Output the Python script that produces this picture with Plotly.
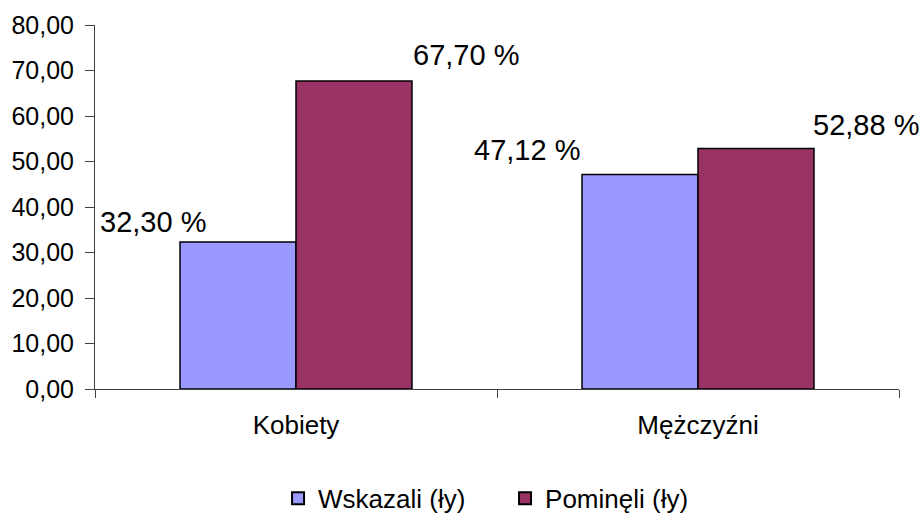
import plotly.graph_objects as go

categories = ["Kobiety", "Mężczyźni"]
series_names = ["Wskazali (ły)", "Pominęli (ły)"]
wskazali = [32.30, 47.12]
pominieli = [67.70, 52.88]
y_ticks = [0, 10, 20, 30, 40, 50, 60, 70, 80]

colors = ["#9999FF", "#993366"]
FONT = "Liberation Sans, Arial, sans-serif"

fig = go.Figure()
for name, vals, col in zip(series_names, [wskazali, pominieli], colors):
    fig.add_trace(go.Bar(
        x=categories, y=vals, name=name,
        marker=dict(color=col, line=dict(color="black", width=1.5)),
    ))

label_specs = [
    (categories[0], wskazali[0], -143, 20),
    (categories[0], pominieli[0], 170, 26),
    (categories[1], wskazali[1], -171, 25),
    (categories[1], pominieli[1], 168, 23),
]
for cat, v, xs, ys in label_specs:
    fig.add_annotation(
        x=cat, y=v, xref="x", yref="y",
        text=f"{v:.2f}".replace(".", ",") + " %",
        showarrow=False, xshift=xs, yshift=ys,
        xanchor="center", yanchor="middle",
        font=dict(family=FONT, size=29, color="black"),
    )

fig.update_layout(
    width=921, height=515, autosize=False,
    margin=dict(l=95, r=22, t=25, b=126, autoexpand=False),
    paper_bgcolor="white", plot_bgcolor="white",
    barmode="group", bargap=0.423, bargroupgap=0,
    separators=", ",
    font=dict(family=FONT, size=25, color="black"),
    showlegend=True,
    legend=dict(
        orientation="h", x=0.51, xanchor="center", y=-0.236, yanchor="top",
        font=dict(family=FONT, size=26, color="black"),
        itemsizing="constant", tracegroupgap=0,
        entrywidth=182, entrywidthmode="pixels",
    ),
)
fig.update_xaxes(
    type="category", range=[-0.5, 1.5], domain=[0, 1],
    showline=True, linecolor="#404040", linewidth=1,
    ticks="outside", tickson="boundaries", ticklen=8, tickcolor="#404040",
    showgrid=False, zeroline=False,
    tickfont=dict(family=FONT, size=26, color="black"),
    ticklabelstandoff=13,
)
fig.update_yaxes(
    range=[0, 80], tickvals=y_ticks, tickformat=".2f",
    showline=True, linecolor="#404040", linewidth=1,
    ticks="outside", ticklen=9, tickcolor="#404040",
    showgrid=False, zeroline=False,
    tickfont=dict(family=FONT, size=25, color="black"),
    ticklabelstandoff=6,
)

post = (
    "document.body.style.margin='0';"
    "document.body.style.overflow='hidden';"
)
fig.write_html("out.html", post_script=post, config={"displayModeBar": False})
